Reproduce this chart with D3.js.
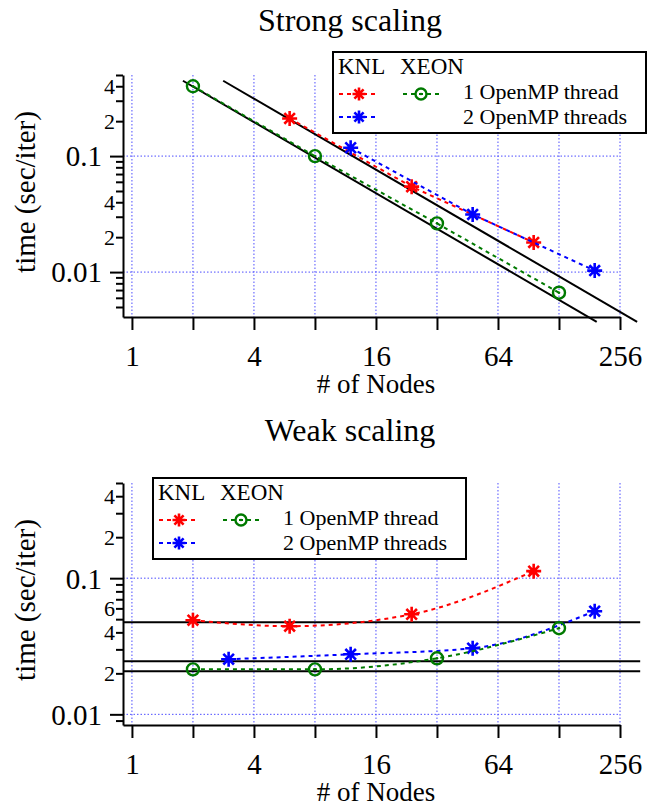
<!DOCTYPE html>
<html><head><meta charset="utf-8">
<script src="https://cdn.jsdelivr.net/npm/d3@7"></script>
<style>body{margin:0;background:#fff}svg{display:block}</style>
</head><body>
<svg id="c" width="647" height="807"></svg>
<script>
// ---------------- data ----------------
const xTickValues = [1, 2, 4, 8, 16, 32, 64, 128, 256];
const xTickLabels = ["1", "", "4", "", "16", "", "64", "", "256"];

// Strong scaling
const strongNodesKnl1 = [6, 24, 96];
const strongTimeKnl1 = [0.211, 0.0545, 0.018];
const strongNodesKnl2 = [12, 48, 192];
const strongTimeKnl2 = [0.118, 0.0314, 0.0103];
const strongNodesXeon1 = [2, 8, 32, 128];
const strongTimeXeon1 = [0.4, 0.1, 0.0263, 0.00664];
const strongIdealNodes = [[1.785, 196.5], [2.82, 311]];
const strongIdealTimes = [[0.446, 0.00373], [0.446, 0.00373]];
const strongYTickValues = [0.4, 0.2, 0.1, 0.04, 0.02, 0.01];
const strongYTickLabels = ["4", "2", "0.1", "4", "2", "0.01"];

// Weak scaling
const weakNodesKnl1 = [2, 6, 24, 96];
const weakTimeKnl1 = [0.0491, 0.0444, 0.0543, 0.1126];
const weakNodesKnl2 = [3, 12, 48, 192];
const weakTimeKnl2 = [0.0254, 0.0276, 0.0306, 0.0572];
const weakNodesXeon1 = [2, 8, 32, 128];
const weakTimeXeon1 = [0.0214, 0.0214, 0.0258, 0.0429];
const weakRefNodes = [0.9035, 322];
const weakRefTimes = [0.0475, 0.0245, 0.0207];
const weakYTickValues = [0.4, 0.2, 0.1, 0.06, 0.04, 0.02, 0.01];
const weakYTickLabels = ["4", "2", "0.1", "6", "4", "2", "0.01"];

const legendHeader = ["KNL", "XEON"];
const legendLabels = ["1 OpenMP thread", "2 OpenMP threads"];

// ---------------- drawing ----------------
const FONT = "'Liberation Serif', 'Times New Roman', serif";
const RED = "#ff0000", BLUE = "#0000ff", GREEN = "#007a00";
const svg = d3.select("#c");

function starPath(r) {
  let p = "";
  for (let k = 0; k < 4; k++) {
    const a = k * Math.PI / 4;
    const dx = r * Math.cos(a), dy = r * Math.sin(a);
    p += `M${-dx},${-dy}L${dx},${dy}`;
  }
  return p;
}

function drawStar(g, cx, cy, color, r) {
  g.append("path").attr("transform", `translate(${cx},${cy})`)
    .attr("d", starPath(r)).attr("stroke", color).attr("stroke-width", 2.6)
    .attr("fill", "none");
}
function drawRing(g, cx, cy, color, r) {
  g.append("circle").attr("cx", cx).attr("cy", cy).attr("r", r)
    .attr("fill", "none").attr("stroke", color).attr("stroke-width", 2.4);
  g.append("circle").attr("cx", cx).attr("cy", cy).attr("r", 1.3).attr("fill", color);
}

function panel(o) {
  const g = svg.append("g");
  const x = d3.scaleLog().base(2).domain([0.9035, 256]).range([123, 620]);
  const y = d3.scaleLog().domain(o.yDomain).range([o.bottom, o.top]);

  // grid
  g.append("g").selectAll("line").data(xTickValues).join("line")
    .attr("x1", d => x(d)).attr("x2", d => x(d))
    .attr("y1", o.top).attr("y2", o.bottom)
    .attr("stroke", "#4d4dff").attr("stroke-width", 1).attr("stroke-dasharray", "1.5,2");
  g.append("g").selectAll("line").data([0.1, 0.01]).join("line")
    .attr("x1", 123).attr("x2", 620)
    .attr("y1", d => y(d)).attr("y2", d => y(d))
    .attr("stroke", "#4d4dff").attr("stroke-width", 1).attr("stroke-dasharray", "1.5,2");

  // reference (black) lines
  o.refLines.forEach(L => {
    g.append("line")
      .attr("x1", x(L.n[0])).attr("y1", y(L.t[0]))
      .attr("x2", x(L.n[1])).attr("y2", y(L.t[1]))
      .attr("stroke", "#000").attr("stroke-width", 2);
  });

  // series
  o.series.forEach(s => {
    const pts = s.n.map((n, i) => [x(n), y(s.t[i])]);
    g.append("path").attr("d", d3.line().curve(o.curve)(pts))
      .attr("fill", "none").attr("stroke", s.color).attr("stroke-width", 2)
      .attr("stroke-dasharray", "4,4");
    pts.forEach(p => s.marker === "star" ? drawStar(g, p[0], p[1], s.color, 7.5) : drawRing(g, p[0], p[1], s.color, 6));
  });

  // x axis
  const gx = g.append("g").attr("transform", `translate(0,${o.bottom})`)
    .call(d3.axisBottom(x).tickValues(xTickValues).tickSize(13).tickSizeOuter(0)
      .tickFormat((d, i) => xTickLabels[i]));
  gx.selectAll("path,line").attr("stroke", "#000").attr("stroke-width", 2);
  gx.selectAll("text").attr("y", 49).attr("dy", 0)
    .style("font-family", FONT).style("font-size", "29px").attr("fill", "#000");

  // y axis
  const yTicks = [];
  const lo = Math.floor(Math.log10(o.yDomain[0])), hi = Math.ceil(Math.log10(o.yDomain[1]));
  for (let e = lo; e <= hi; e++) for (let k = 1; k <= 9; k++) {
    const v = k * Math.pow(10, e);
    if (v >= o.yDomain[0] * 0.999 && v <= o.yDomain[1] * 1.001) yTicks.push(v);
  }
  const labelOf = d => {
    const i = o.yTickValues.findIndex(v => Math.abs(Math.log10(v / d)) < 1e-6);
    return i < 0 ? "" : o.yTickLabels[i];
  };
  const isDecade = d => Math.abs(Math.log10(d) - Math.round(Math.log10(d))) < 1e-6;
  const gy = g.append("g").attr("transform", "translate(123,0)")
    .call(d3.axisLeft(y).tickValues(yTicks).tickSize(7).tickSizeOuter(0).tickFormat(labelOf));
  gy.selectAll("path,line").attr("stroke", "#000").attr("stroke-width", 2);
  gy.selectAll(".tick").each(function (d) {
    const t = d3.select(this);
    if (isDecade(d)) {
      t.select("line").attr("x2", -13);
      t.select("text").attr("x", -21).style("font-size", "29px");
    } else {
      t.select("text").attr("x", -8).style("font-size", "22px");
    }
  });
  gy.selectAll("text").style("font-family", FONT).attr("fill", "#000").attr("dy", "0.34em");

  // titles and labels
  svg.append("text").attr("x", 350).attr("y", o.titleY).attr("text-anchor", "middle")
    .style("font-family", FONT).style("font-size", "32px").text(o.title);
  svg.append("text").attr("transform", `translate(35,${(o.top + o.bottom) / 2 - 4}) rotate(-90)`)
    .attr("text-anchor", "middle").style("font-family", FONT).style("font-size", "29px")
    .text("time (sec/iter)");
  svg.append("text").attr("x", 376).attr("y", o.bottom + 76).attr("text-anchor", "middle")
    .style("font-family", FONT).style("font-size", "27px").text("# of Nodes");

  // legend
  const lg = svg.append("g").attr("transform", `translate(${o.legend[0]},${o.legend[1]})`);
  lg.append("rect").attr("x", 0).attr("y", 0).attr("width", 313).attr("height", 81)
    .attr("fill", "#fff").attr("stroke", "#000").attr("stroke-width", 2);
  lg.append("text").attr("x", 5).attr("y", 22).style("font-family", FONT).style("font-size", "23px").text(legendHeader[0]);
  lg.append("text").attr("x", 67).attr("y", 22).style("font-family", FONT).style("font-size", "23px").text(legendHeader[1]);
  const legItems = [
    { s: o.series[0], lx: 6, cx: 26, cy: 42 },
    { s: o.series[2], lx: 70, cx: 88, cy: 42 },
    { s: o.series[1], lx: 6, cx: 26, cy: 65 }
  ];
  legItems.forEach(it => {
    lg.append("line").attr("x1", it.lx).attr("x2", it.lx + 40).attr("y1", it.cy).attr("y2", it.cy)
      .attr("stroke", it.s.color).attr("stroke-width", 2).attr("stroke-dasharray", "4,4");
    it.s.marker === "star" ? drawStar(lg, it.cx, it.cy, it.s.color, 6.5) : drawRing(lg, it.cx, it.cy, it.s.color, 5.5);
  });
  lg.append("text").attr("x", 130).attr("y", 47).style("font-family", FONT).style("font-size", "22px").text(legendLabels[0]);
  lg.append("text").attr("x", 130).attr("y", 72).style("font-family", FONT).style("font-size", "22px").text(legendLabels[1]);
}

panel({
  title: "Strong scaling", titleY: 31, top: 75, bottom: 317,
  yDomain: [0.0041, 0.5], yTickValues: strongYTickValues, yTickLabels: strongYTickLabels,
  curve: d3.curveLinear,
  refLines: strongIdealNodes.map((n, i) => ({ n: n, t: strongIdealTimes[i] })),
  series: [
    { n: strongNodesKnl1, t: strongTimeKnl1, color: RED, marker: "star" },
    { n: strongNodesKnl2, t: strongTimeKnl2, color: BLUE, marker: "star" },
    { n: strongNodesXeon1, t: strongTimeXeon1, color: GREEN, marker: "ring" }
  ],
  legend: [333, 52]
});

panel({
  title: "Weak scaling", titleY: 441, top: 483, bottom: 725,
  yDomain: [0.00835, 0.5], yTickValues: weakYTickValues, yTickLabels: weakYTickLabels,
  curve: d3.curveMonotoneX,
  refLines: weakRefTimes.map(t => ({ n: weakRefNodes, t: [t, t] })),
  series: [
    { n: weakNodesKnl1, t: weakTimeKnl1, color: RED, marker: "star" },
    { n: weakNodesKnl2, t: weakTimeKnl2, color: BLUE, marker: "star" },
    { n: weakNodesXeon1, t: weakTimeXeon1, color: GREEN, marker: "ring" }
  ],
  legend: [153, 478]
});
</script>
</body></html>
